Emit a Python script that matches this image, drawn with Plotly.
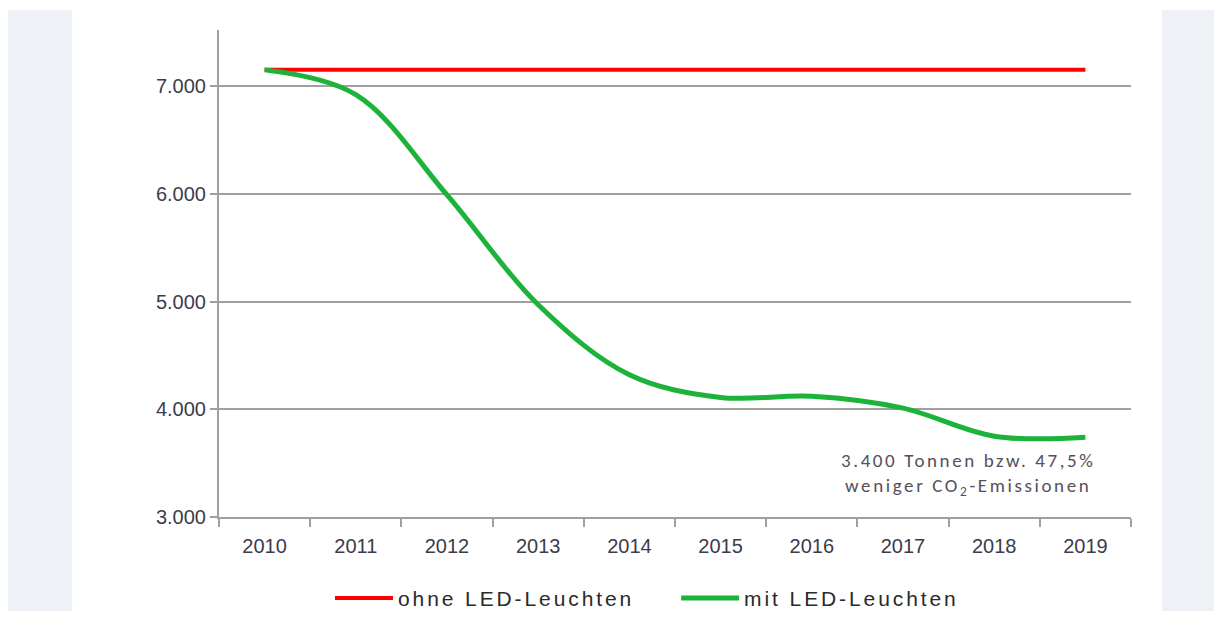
import plotly.graph_objects as go

years = ["2010", "2011", "2012", "2013", "2014", "2015", "2016", "2017", "2018", "2019"]
ohne_led = [7150, 7150, 7150, 7150, 7150, 7150, 7150, 7150, 7150, 7150]
mit_led = [7150, 6920, 5990, 4970, 4320, 4110, 4120, 4010, 3750, 3740]
y_ticks = [3000, 4000, 5000, 6000, 7000]
y_tick_text = ["3.000", "4.000", "5.000", "6.000", "7.000"]

tick_font = dict(family="Liberation Sans, Arial, sans-serif", size=20, color="#3c3c4c")
legend_font = dict(family="Liberation Sans, Arial, sans-serif", size=21, color="#2a2a2a")


def spaced(t, px):
    return '<span style="letter-spacing:%.1fpx">%s</span>' % (px, t)


fig = go.Figure()
fig.add_trace(go.Scatter(x=years, y=ohne_led, mode="lines", name=spaced("ohne LED-Leuchten", 2.9),
                         line=dict(color="#ff0000", width=4), legend="legend"))
fig.add_trace(go.Scatter(x=years, y=mit_led, mode="lines", name=spaced("mit LED-Leuchten", 2.9),
                         line=dict(color="#1db33a", width=5, shape="spline", smoothing=1.0),
                         legend="legend2"))

leg_common = dict(orientation="h", xref="container", yref="container", y=0.021,
                  yanchor="middle", xanchor="left",
                  font=legend_font, bgcolor="rgba(0,0,0,0)", itemwidth=58)

fig.update_layout(
    width=1206, height=603,
    margin=dict(l=211, r=83, t=22, b=94, autoexpand=False),
    paper_bgcolor="white", plot_bgcolor="white",
    showlegend=True,
    legend=dict(x=0.267, **leg_common),
    legend2=dict(x=0.554, **leg_common),
    xaxis=dict(type="category", tickson="boundaries", ticks="outside", ticklen=8, tickwidth=2,
               tickcolor="#a0a0a0", showline=True, linecolor="#a0a0a0", linewidth=2,
               showgrid=False, tickfont=tick_font, range=[-0.5, 9.5], ticklabelstandoff=10),
    yaxis=dict(range=[3000, 7520], tickvals=y_ticks, ticktext=y_tick_text, ticks="outside",
               ticklen=7, tickwidth=2, tickcolor="#a0a0a0", showline=True, linecolor="#a0a0a0",
               linewidth=2, showgrid=True, gridcolor="#a0a0a0", gridwidth=2, zeroline=False,
               tickfont=tick_font),
    shapes=[
        dict(type="rect", xref="paper", yref="paper", x0=-0.2314, x1=-0.1612, y0=-0.25, y1=1.041,
             fillcolor="#eef1f5", line=dict(width=0), layer="below"),
        dict(type="rect", xref="paper", yref="paper", x0=1.034, x1=1.12, y0=-0.25, y1=1.041,
             fillcolor="#eef1f5", line=dict(width=0), layer="below"),
    ],
    annotations=[
        dict(xref="paper", yref="y", x=0.821, y=3390, xanchor="center", yanchor="middle",
             showarrow=False, align="center",
             text=spaced("3.400 Tonnen bzw. 47,5%", 2.6) + "<br>" +
                  spaced("weniger CO<sub>2</sub>-Emissionen", 2.6),
             font=dict(family="Carlito, Lato, sans-serif", size=19, color="#55505c")),
    ],
)

fig.write_html("out.html")
